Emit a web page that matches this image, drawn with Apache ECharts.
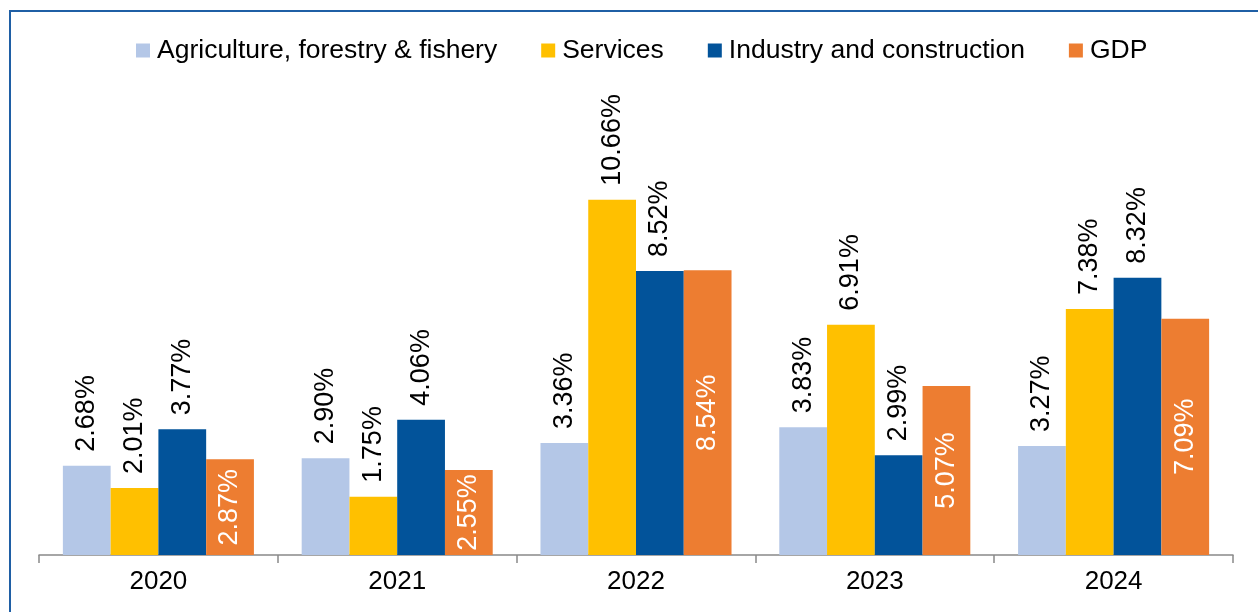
<!DOCTYPE html>
<html>
<head>
<meta charset="utf-8">
<script src="https://cdn.jsdelivr.net/npm/echarts@6/dist/echarts.min.js"></script>
<style>
  html, body { margin: 0; padding: 0; background: #fff; }
  #chart { width: 1258px; height: 612px; }
</style>
</head>
<body>
<div id="chart"></div>
<script>
// Annual growth by sector (%)
const years = ['2020', '2021', '2022', '2023', '2024'];
const agriculture = [2.68, 2.90, 3.36, 3.83, 3.27];
const services = [2.01, 1.75, 10.66, 6.91, 7.38];
const industry = [3.77, 4.06, 8.52, 2.99, 8.32];
const gdp = [2.87, 2.55, 8.54, 5.07, 7.09];

const FONT = 'Liberation Sans, Arial, sans-serif';

const outsideLabel = {
  show: true,
  position: 'top',
  rotate: 90,
  align: 'left',
  verticalAlign: 'middle',
  distance: 14,
  color: '#000',
  fontFamily: FONT,
  fontSize: 27,
  formatter: p => p.value.toFixed(2) + '%'
};

const insideLabel = {
  show: true,
  position: 'inside',
  rotate: 90,
  align: 'center',
  verticalAlign: 'middle',
  color: '#fff',
  fontFamily: FONT,
  fontSize: 27,
  formatter: p => p.value.toFixed(2) + '%'
};

function bar(name, data, color, label) {
  return {
    name, type: 'bar', data,
    barGap: '0%', barCategoryGap: '20%',
    itemStyle: { color },
    label,
    emphasis: { disabled: true }
  };
}

const chart = echarts.init(document.getElementById('chart'), null, { renderer: 'canvas' });
chart.setOption({
  animation: false,
  backgroundColor: '#fff',
  graphic: [{
    type: 'rect',
    shape: { x: 10, y: 11, width: 1400, height: 800 },
    style: { fill: 'none', stroke: '#1F5FA5', lineWidth: 2 },
    silent: true
  }],
  legend: {
    left: 131, top: 32,
    itemWidth: 14, itemHeight: 14, itemGap: 44,
    icon: 'rect',
    textStyle: { fontFamily: FONT, fontSize: 26.5, color: '#000', padding: [0, 0, 0, 2] },
    data: ['Agriculture, forestry & fishery', 'Services', 'Industry and construction', 'GDP']
  },
  grid: { left: 39, right: 25, top: 155, bottom: 57, containLabel: false },
  xAxis: {
    type: 'category', data: years,
    axisLine: { lineStyle: { color: '#898989', width: 1.5 } },
    axisTick: { show: true, length: 8, lineStyle: { color: '#898989', width: 1.5 } },
    axisLabel: { fontFamily: FONT, fontSize: 26, color: '#000', margin: 14 }
  },
  yAxis: { type: 'value', min: 0, max: 12, show: false, splitLine: { show: false } },
  series: [
    bar('Agriculture, forestry & fishery', agriculture, '#B4C7E7', outsideLabel),
    bar('Services', services, '#FFC000', outsideLabel),
    bar('Industry and construction', industry, '#02539A', outsideLabel),
    bar('GDP', gdp, '#ED7D31', insideLabel)
  ]
});
</script>
</body>
</html>
